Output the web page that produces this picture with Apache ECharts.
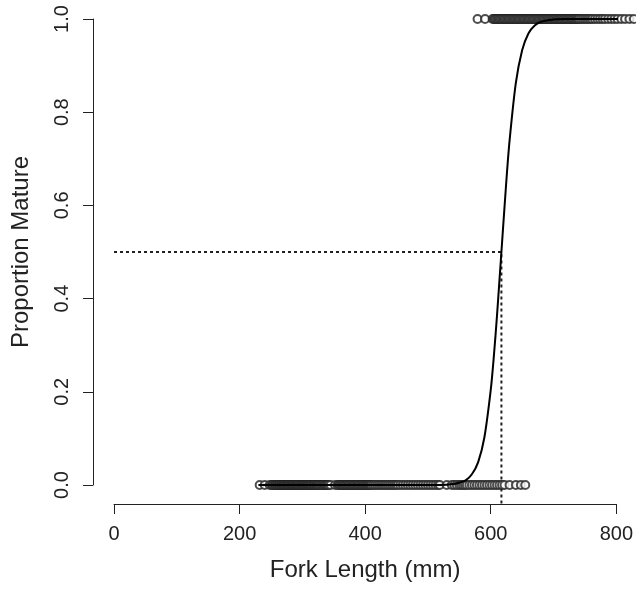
<!DOCTYPE html>
<html>
<head>
<meta charset="utf-8">
<script src="https://cdn.jsdelivr.net/npm/echarts@6/dist/echarts.min.js"></script>
<style>
  html, body { margin: 0; padding: 0; background: #fff; }
  #chart { width: 636px; height: 592px; }
</style>
</head>
<body>
<div id="chart"></div>
<script>
// fork lengths (mm) of immature fish, plotted at 0
const immature = [232, 240, 248, 251, 253, 255, 257, 258, 260, 261, 263, 264, 266, 267, 269, 270,
  271, 273, 274, 276, 277, 278, 280, 281, 283, 284, 285, 287, 288, 290, 291, 292, 294, 295, 297,
  298, 300, 301, 302, 304, 305, 307, 308, 310, 311, 313, 314, 316, 318, 319, 321, 323, 324, 326,
  328, 330, 332, 334, 336, 338, 340, 342, 345, 352, 356, 358, 360, 362, 364, 366, 368, 370, 372,
  374, 376, 378, 380, 382, 384, 386, 388, 390, 392, 394, 396, 398, 400, 402, 404, 406, 408, 410,
  413, 416, 419, 422, 425, 428, 431, 434, 437, 440, 443, 446, 449, 452, 456, 460, 464, 468, 472,
  476, 480, 484, 488, 492, 496, 500, 504, 508, 512, 516, 519, 530, 538, 542, 546, 550, 553, 556,
  559, 562, 566, 570, 574, 578, 582, 586, 590, 594, 598, 602, 606, 610, 614, 618, 622, 630, 640,
  648, 655];
// fork lengths (mm) of mature fish, plotted at 1
const mature = [579, 591, 603, 605, 607, 609, 611, 613, 615, 617, 619, 621, 623, 625, 627, 629,
  631, 633, 635, 637, 639, 641, 643, 645, 647, 649, 651, 653, 655, 657, 659, 661, 663, 665, 667,
  669, 671, 673, 675, 677, 679, 681, 683, 685, 687, 689, 691, 693, 695, 697, 699, 701, 703, 705,
  707, 709, 711, 713, 715, 717, 719, 721, 723, 725, 727, 729, 731, 733, 735, 737, 739, 741, 744,
  747, 750, 753, 756, 759, 762, 766, 770, 774, 778, 782, 787, 792, 797, 802, 808, 814, 821, 828];
// fitted curve
const curveX = [230, 400, 520, 540, 550, 560, 570, 580, 590, 600, 605, 610, 617, 625, 630, 640, 650, 660, 670, 680, 700, 720, 800, 832];
const curveP = [0, 0, 0, 0.002, 0.005, 0.01, 0.023, 0.049, 0.103, 0.204, 0.277, 0.364, 0.5, 0.655, 0.739, 0.863, 0.933, 0.969, 0.986, 0.994, 0.999, 1, 1, 1];
const l50 = 617;
const xTicks = [0, 200, 400, 600, 800];
const yTicks = [0, 0.2, 0.4, 0.6, 0.8, 1.0];

const chart = echarts.init(document.getElementById("chart"));
const font = "Liberation Sans, Arial, sans-serif";
const ink = "#222";

const option = {
  backgroundColor: "#fff",
  animation: false,
  grid: { left: 114, right: 19, top: 19, bottom: 107 },
  xAxis: {
    type: "value",
    min: xTicks[0],
    max: xTicks[xTicks.length - 1],
    interval: 200,
    offset: 19,
    splitLine: { show: false },
    axisLine: { show: true, onZero: false, lineStyle: { color: ink, width: 1 } },
    axisTick: { show: true, length: 10, lineStyle: { color: ink } },
    axisLabel: { color: ink, fontSize: 20, fontFamily: font, margin: 20 },
    name: "Fork Length (mm)",
    nameLocation: "middle",
    nameGap: 54,
    nameTextStyle: { color: ink, fontSize: 24, fontFamily: font }
  },
  yAxis: {
    type: "value",
    min: yTicks[0],
    max: yTicks[yTicks.length - 1],
    interval: 0.2,
    offset: 21,
    splitLine: { show: false },
    axisLine: { show: true, onZero: false, lineStyle: { color: ink, width: 1 } },
    axisTick: { show: true, length: 10, lineStyle: { color: ink } },
    axisLabel: {
      color: ink, fontSize: 20, fontFamily: font, margin: 21, rotate: 90,
      formatter: v => v.toFixed(1)
    },
    name: "Proportion Mature",
    nameLocation: "middle",
    nameGap: 60,
    nameTextStyle: { color: ink, fontSize: 24, fontFamily: font }
  },
  series: [
    {
      type: "line",
      data: [[0, 0.5], [l50, 0.5], [l50, -0.04]],
      symbol: "none",
      clip: false,
      lineStyle: { color: ink, width: 2, type: [3, 3] },
      z: 1
    },
    {
      type: "scatter",
      data: immature.map(v => [v, 0]),
      symbol: "emptyCircle",
      symbolSize: 8,
      clip: false,
      itemStyle: { color: ink, borderColor: ink, borderWidth: 1.2 },
      z: 2
    },
    {
      type: "scatter",
      data: mature.map(v => [v, 1]),
      symbol: "emptyCircle",
      symbolSize: 8,
      clip: false,
      itemStyle: { color: ink, borderColor: ink, borderWidth: 1.2 },
      z: 2
    },
    {
      type: "line",
      data: curveX.map((x, i) => [x, curveP[i]]),
      symbol: "none",
      smooth: 0.3,
      clip: false,
      lineStyle: { color: "#000", width: 2 },
      z: 3
    }
  ]
};

chart.setOption(option);
</script>
</body>
</html>
